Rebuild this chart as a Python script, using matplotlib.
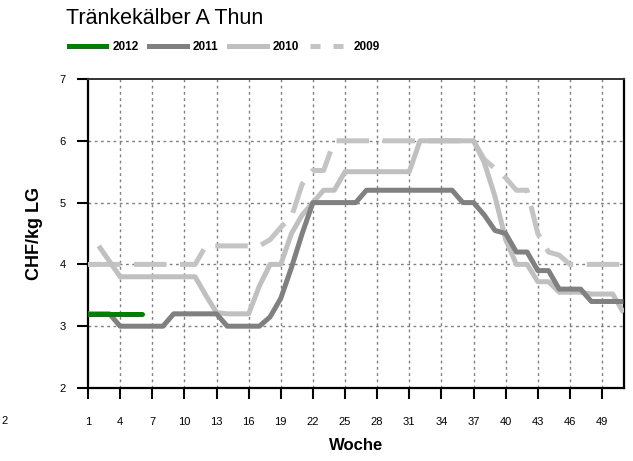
import numpy as np
import matplotlib
matplotlib.use("Agg")
import matplotlib.pyplot as plt
from matplotlib.lines import Line2D

plt.rcParams['font.family'] = ['Liberation Sans', 'DejaVu Sans']

nan = np.nan
weeks = list(range(1, 52))

s2012 = [3.2, 3.2, 3.2, 3.2, 3.2, 3.2]

s2011 = [3.2, 3.2, 3.2, 3.0, 3.0, 3.0, 3.0, 3.0, 3.2, 3.2,
         3.2, 3.2, 3.2, 3.0, 3.0, 3.0, 3.0, 3.15, 3.45, 3.95,
         4.5, 5.0, 5.0, 5.0, 5.0, 5.0, 5.2, 5.2, 5.2, 5.2,
         5.2, 5.2, 5.2, 5.2, 5.2, 5.0, 5.0, 4.8, 4.55, 4.5,
         4.2, 4.2, 3.9, 3.9, 3.6, 3.6, 3.6, 3.4, 3.4, 3.4, 3.4]

s2010 = [nan, 4.3, 4.05, 3.8, 3.8, 3.8, 3.8, 3.8, 3.8, 3.8,
         3.8, 3.5, 3.22, 3.2, 3.2, 3.2, 3.65, 4.0, 4.0, 4.5,
         4.8, 5.0, 5.2, 5.2, 5.5, 5.5, 5.5, 5.5, 5.5, 5.5,
         5.5, 6.0, 6.0, 6.0, 6.0, 6.0, 6.0, 5.65, 5.1, 4.4,
         4.0, 4.0, 3.72, 3.72, 3.55, 3.55, 3.55, 3.52, 3.52, 3.52, 3.22]

s2009 = [4.0, 4.0, 4.0, 4.0, 4.0, 4.0, 4.0, 4.0, 4.0, 4.0,
         4.0, 4.3, 4.3, 4.3, 4.3, 4.3, 4.3, 4.4, 4.6, 4.77,
         5.3, 5.52, 5.52, 6.0, 6.0, 6.0, 6.0, 6.0, 6.0, 6.0,
         6.0, 6.0, 6.0, 6.0, 6.0, 6.0, 6.0, 5.7, 5.55, 5.4,
         5.2, 5.2, 4.5, 4.2, 4.15, 4.0, 4.0, 4.0, 4.0, 4.0, 4.0]

xticks = list(range(1, 50, 3))
yticks = [2, 3, 4, 5, 6, 7]
series_labels = ['2012', '2011', '2010', '2009']

c2012 = '#008000'
c2011 = '#808080'
c2010 = '#c0c0c0'
c2009 = '#c4c4c4'

fig = plt.figure(figsize=(6.33, 4.61), dpi=100)
ax = fig.add_axes([88/633, 1-388/461, (624-88)/633, (388-79)/461])

lw = 3.6
ax.plot(weeks, s2009, color=c2009, lw=lw, dashes=(6.5, 2.7), solid_capstyle='butt', dash_capstyle='butt', zorder=3)
ax.plot(weeks, s2010, color=c2010, lw=lw, solid_capstyle='butt', zorder=4)
ax.plot(weeks, s2011, color=c2011, lw=lw, solid_capstyle='butt', zorder=5)
ax.plot(weeks[:len(s2012)], s2012, color=c2012, lw=lw, solid_capstyle='round', zorder=6)

ax.set_xlim(1, 51.05)
ax.set_ylim(2, 7)
ax.set_xticks(xticks)
ax.set_yticks(yticks)
ax.tick_params(axis='both', direction='out', length=8, width=1.5, labelsize=8, color='black')
ax.tick_params(axis='x', pad=13)
ax.tick_params(axis='y', pad=8)

for x in xticks[1:]:
    ax.axvline(x, color='#808080', lw=1, ls=(0, (2, 2.5)), zorder=1)
for y in [3, 4, 5, 6]:
    ax.axhline(y, color='#808080', lw=1, ls=(0, (2, 2.5)), zorder=1)

for side in ['left', 'bottom', 'right']:
    ax.spines[side].set_linewidth(1.6)
    ax.spines[side].set_color('black')
ax.spines['top'].set_linewidth(1.4)
ax.spines['top'].set_color('#333333')

ax.set_xlabel('Woche', fontsize=12, fontweight='bold', labelpad=8)
ax.set_ylabel('CHF/kg LG', fontsize=13, fontweight='bold', labelpad=12)

fig.text(66/633, 1-19/461, 'Tränkekälber A Thun', fontsize=15.5, ha='left', va='center')

handles = [
    Line2D([], [], color=c2012, lw=3.6),
    Line2D([], [], color=c2011, lw=3.6),
    Line2D([], [], color=c2010, lw=3.6),
    Line2D([], [], color=c2009, lw=3.6, dashes=(2.0, 2.6)),
]
fig.legend(handles, series_labels, loc='center left',
           bbox_to_anchor=(58/633, 1-47/461), ncol=4, frameon=False,
           prop={'weight': 'bold', 'size': 8.5}, handlelength=3.2,
           handletextpad=0.5, columnspacing=0.9)

fig.text(1/633, 1-421/461, '2', fontsize=8, ha='left', va='center')

fig.savefig('out.png', dpi=100)
